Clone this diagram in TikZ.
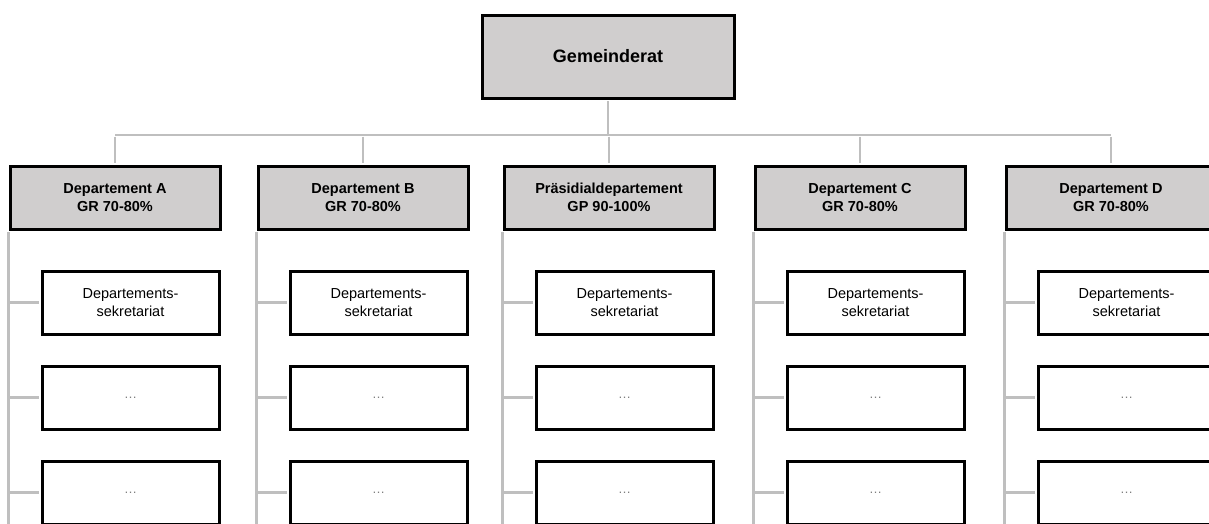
\documentclass[tikz,border=0pt]{standalone}
\usepackage{fontspec}
\setmainfont{Liberation Sans}
\usepackage{xcolor}
\usetikzlibrary{positioning, calc}
\definecolor{BoxGray}{HTML}{D0CECE}
\definecolor{LineGray}{HTML}{BFBFBF}
\definecolor{DotGray}{HTML}{7F7F7F}

\begin{document}
\begin{tikzpicture}[x=1pt, y=-1pt,
  topbox/.style={draw=black, fill=BoxGray, line width=3pt, minimum width=252pt, minimum height=83pt, font=\fontsize{18}{21}\selectfont\bfseries},
  depbox/.style={draw=black, fill=BoxGray, line width=3pt, minimum width=210pt, minimum height=63pt, align=center, font=\fontsize{14.5}{17.5}\selectfont\bfseries},
  subbox/.style={draw=black, fill=white, line width=3pt, minimum width=177pt, minimum height=63pt, align=center, font=\fontsize{14.5}{17.5}\selectfont},
  link/.style={draw=LineGray, line width=2.8pt, shorten <=1.5pt, shorten >=1.5pt},
  ]
  \useasboundingbox (0,0) rectangle (1209,523);
  \clip (0,0) rectangle (1209,523);

  \node[topbox] (rat) at (608,56.5) {Gemeinderat};
  \coordinate (bus) at (608,135);
  \coordinate (floor) at (0,540);

  \foreach \k/\cx/\title/\share in {A/115/Departement A/GR 70-80\%, B/363/Departement B/GR 70-80\%, P/609/Präsidialdepartement/GP 90-100\%, C/860/Departement C/GR 70-80\%, D/1111/Departement D/GR 70-80\%}{
    \node[depbox] (dep\k) at (\cx,197.5) {\title\\\share};
    \node[subbox] (sek\k) at (\cx+15.5,302.5) {Departements-\\sekretariat};
    \node[subbox] (more\k) at (\cx+15.5,397.5) {\textcolor{DotGray}{\fontsize{13}{15}\selectfont …}};
    \node[subbox] (rest\k) at (\cx+15.5,492.5) {\textcolor{DotGray}{\fontsize{13}{15}\selectfont …}};
    % rail and branches
    \draw[link] (dep\k.south west) -- (dep\k.south west |- floor);
    \draw[link] (sek\k.west -| dep\k.south west) -- (sek\k.west);
    \draw[link] (more\k.west -| dep\k.south west) -- (more\k.west);
    \draw[link] (rest\k.west -| dep\k.south west) -- (rest\k.west);
    \draw[link] (dep\k.north |- bus) -- (dep\k.north);
  }

  \draw[link] (rat.south) -- (bus);
  \draw[draw=LineGray, line width=2.8pt] (depA.north |- bus) -- (depD.north |- bus);
\end{tikzpicture}
\end{document}
